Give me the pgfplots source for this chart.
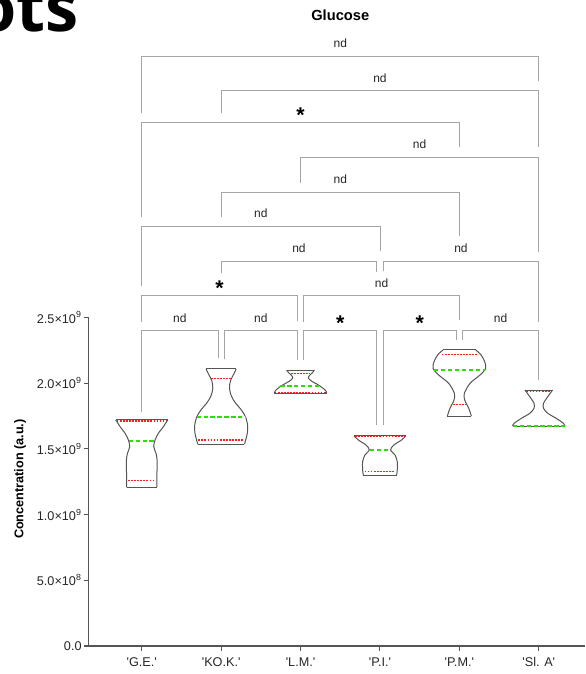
\documentclass[border=0pt]{standalone}
\usepackage{fontspec}
\setmainfont{Liberation Sans}
\newfontfamily\bigfont{Open Sans}
\usepackage{pgfplots}
\pgfplotsset{compat=1.18}
\usepackage{pgfplotstable}

\definecolor{vgreen}{RGB}{40,225,0}
\definecolor{vred}{RGB}{250,30,30}
\definecolor{brk}{RGB}{165,165,165}
\definecolor{axc}{RGB}{85,85,85}

\tikzset{
  vio/.style={draw=axc, line width=0.75pt, smooth, mark=none},
  vioe/.style={draw=axc, line width=0.75pt, sharp plot, mark=none},
  med/.style={draw=vgreen, line width=1.3pt, dash pattern=on 3.2pt off 2pt, mark=none},
  qrt/.style={draw=vred, line width=1pt, dash pattern=on 1.3pt off 1pt, mark=none},
  br/.style={draw=brk, line width=0.55pt, sharp plot, mark=none},
  lab/.style={font=\fontsize{9}{10}\selectfont, text=black!85},
  star/.style={anchor=base, inner sep=0, font=\bfseries\fontsize{16}{16}\selectfont},
}

% violin profiles: y (x1e9) and half width (category units)
\pgfplotstableread{
y w
1.720 0.328
1.700 0.305
1.669 0.273
1.619 0.210
1.568 0.168
1.517 0.151
1.466 0.180
1.416 0.193
1.350 0.193
1.280 0.190
1.208 0.190
}\GE
\pgfplotstableread{
y w
2.108 0.189
2.070 0.160
2.020 0.118
1.960 0.105
1.900 0.130
1.850 0.180
1.800 0.250
1.745 0.306
1.680 0.333
1.620 0.330
1.570 0.310
1.535 0.294
}\KOK
\pgfplotstableread{
y w
2.100 0.175
2.080 0.150
2.060 0.115
2.040 0.098
2.015 0.140
1.990 0.215
1.965 0.275
1.945 0.315
1.923 0.330
}\LM
\pgfplotstableread{
y w
1.600 0.327
1.568 0.273
1.530 0.176
1.492 0.134
1.454 0.189
1.403 0.218
1.339 0.218
1.301 0.210
}\PI
\pgfplotstableread{
y w
2.253 0.206
2.215 0.273
2.164 0.319
2.113 0.332
2.062 0.260
1.999 0.134
1.923 0.063
1.872 0.067
1.809 0.118
1.750 0.151
}\PM
\pgfplotstableread{
y w
1.948 0.174
1.897 0.113
1.847 0.060
1.809 0.060
1.771 0.113
1.733 0.218
1.695 0.310
1.674 0.330
}\SLA

\begin{document}
\begin{tikzpicture}
\begin{axis}[
  x=59.55pt, y=98.55pt,
  xmin=-0.67, xmax=5.583, ymin=0, ymax=2.5,
  axis x line*=bottom, axis y line*=left,
  clip=false,
  xtick={0,1,2,3,4,5},
  xticklabels={\textquotesingle G.E.\textquotesingle,\textquotesingle KO.K.\textquotesingle,\textquotesingle L.M.\textquotesingle,\textquotesingle P.I.\textquotesingle,\textquotesingle P.M.\textquotesingle,\textquotesingle Sl. A\textquotesingle},
  ytick={0,0.5,1,1.5,2,2.5},
  yticklabels={0.0,5.0×10\textsuperscript{8},1.0×10\textsuperscript{9},1.5×10\textsuperscript{9},2.0×10\textsuperscript{9},2.5×10\textsuperscript{9}},
  tick align=outside,
  major tick length=3.5pt,
  axis line style={draw=axc, line width=0.8pt},
  tick style={draw=axc, line width=0.8pt},
  tick label style={font=\fontsize{9.5}{10}\selectfont, text=black!85},
  yticklabel style={inner sep=1.5pt},
  xticklabel style={inner sep=2pt, yshift=-3pt},
]
% ---- quartiles (under outlines) ----
\addplot[qrt] coordinates {(-0.315,1.711) (0.315,1.711)};
\addplot[qrt] coordinates {(-0.172,1.258) (0.172,1.258)};
\addplot[qrt] coordinates {(0.870,2.037) (1.130,2.037)};
\addplot[qrt] coordinates {(0.713,1.568) (1.287,1.568)};
\addplot[qrt] coordinates {(1.880,2.075) (2.120,2.075)};
\addplot[qrt] coordinates {(1.675,1.930) (2.325,1.930)};
\addplot[qrt] coordinates {(2.685,1.592) (3.315,1.592)};
\addplot[qrt] coordinates {(2.807,1.327) (3.193,1.327)};
\addplot[qrt] coordinates {(3.778,2.220) (4.222,2.220)};
\addplot[qrt] coordinates {(3.920,1.840) (4.080,1.840)};
\addplot[qrt] coordinates {(4.845,1.938) (5.155,1.938)};
% ---- violins ----
\addplot[vio] table[x expr=0+\thisrow{w}, y=y]{\GE};
\addplot[vio] table[x expr=0-\thisrow{w}, y=y]{\GE};
\addplot[vioe] coordinates {(-0.328,1.720) (0.328,1.720)};
\addplot[vioe] coordinates {(-0.190,1.208) (0.190,1.208)};
\addplot[vio] table[x expr=1+\thisrow{w}, y=y]{\KOK};
\addplot[vio] table[x expr=1-\thisrow{w}, y=y]{\KOK};
\addplot[vioe] coordinates {(0.811,2.108) (1.189,2.108)};
\addplot[vioe] coordinates {(0.706,1.535) (1.294,1.535)};
\addplot[vio] table[x expr=2+\thisrow{w}, y=y]{\LM};
\addplot[vio] table[x expr=2-\thisrow{w}, y=y]{\LM};
\addplot[vioe] coordinates {(1.825,2.100) (2.175,2.100)};
\addplot[vioe] coordinates {(1.670,1.923) (2.330,1.923)};
\addplot[vio] table[x expr=3+\thisrow{w}, y=y]{\PI};
\addplot[vio] table[x expr=3-\thisrow{w}, y=y]{\PI};
\addplot[vioe] coordinates {(2.673,1.600) (3.327,1.600)};
\addplot[vioe] coordinates {(2.790,1.301) (3.210,1.301)};
\addplot[vio] table[x expr=4+\thisrow{w}, y=y]{\PM};
\addplot[vio] table[x expr=4-\thisrow{w}, y=y]{\PM};
\addplot[vioe] coordinates {(3.794,2.253) (4.206,2.253)};
\addplot[vioe] coordinates {(3.849,1.750) (4.151,1.750)};
\addplot[vio] table[x expr=5+\thisrow{w}, y=y]{\SLA};
\addplot[vio] table[x expr=5-\thisrow{w}, y=y]{\SLA};
\addplot[vioe] coordinates {(4.826,1.948) (5.174,1.948)};
\addplot[vioe] coordinates {(4.670,1.674) (5.330,1.674)};
% ---- medians ----
\addplot[med] coordinates {(-0.165,1.560) (0.165,1.560)};
\addplot[med] coordinates {(0.691,1.740) (1.309,1.740)};
\addplot[med] coordinates {(1.745,1.979) (2.255,1.979)};
\addplot[med] coordinates {(2.870,1.489) (3.130,1.489)};
\addplot[med] coordinates {(3.681,2.100) (4.319,2.100)};
\addplot[med] coordinates {(4.672,1.674) (5.328,1.674)};
% ---- comparison brackets ----
\addplot[br] coordinates {(0,4.056) (0,4.486) (5,4.486) (5,4.300)};
\addplot[br] coordinates {(1,4.056) (1,4.229) (5,4.229) (5,3.798)};
\addplot[br] coordinates {(0,3.267) (0,3.983) (4,3.983) (4,3.798)};
\addplot[br] coordinates {(2,3.526) (2,3.721) (5,3.721) (5,3.001)};
\addplot[br] coordinates {(1,3.267) (1,3.455) (4,3.455) (4,3.123)};
\addplot[br] coordinates {(0,2.740) (0,3.191) (3,3.191) (3,3.008)};
\addplot[br] coordinates {(1,2.839) (1,2.925) (2.96,2.925) (2.96,2.849)};
\addplot[br] coordinates {(3.04,2.854) (3.04,2.925) (5,2.925) (5,2.468)};
\addplot[br] coordinates {(0,2.468) (0,2.666) (1.96,2.666) (1.96,2.476)};
\addplot[br] coordinates {(2.04,2.468) (2.04,2.666) (4,2.666) (4,2.481)};
\addplot[br] coordinates {(0,1.783) (0,2.400) (0.96,2.400) (0.96,2.189)};
\addplot[br] coordinates {(1.04,2.182) (1.04,2.400) (1.96,2.400) (1.96,2.177)};
\addplot[br] coordinates {(2.04,2.177) (2.04,2.400) (2.96,2.400) (2.96,1.682)};
\addplot[br] coordinates {(3.04,1.682) (3.04,2.400) (3.96,2.400) (3.96,2.329)};
\addplot[br] coordinates {(4.04,2.329) (4.04,2.400) (5,2.400) (5,2.024)};
% ---- labels ----
\node[lab] at (axis cs:2.5,4.589) {nd};
\node[lab] at (axis cs:3,4.323) {nd};
\node[lab] at (axis cs:3.5,3.820) {nd};
\node[lab] at (axis cs:2.5,3.554) {nd};
\node[lab] at (axis cs:1.5,3.290) {nd};
\node[lab] at (axis cs:1.98,3.027) {nd};
\node[lab] at (axis cs:4.02,3.027) {nd};
\node[lab] at (axis cs:3.02,2.763) {nd};
\node[lab] at (axis cs:0.48,2.496) {nd};
\node[lab] at (axis cs:1.5,2.496) {nd};
\node[lab] at (axis cs:4.52,2.496) {nd};
\node[star] at (axis cs:2,3.985) {*};
\node[star] at (axis cs:0.98,2.668) {*};
\node[star] at (axis cs:2.5,2.399) {*};
\node[star] at (axis cs:3.5,2.399) {*};
% title, y label, cropped heading
\node[font=\bfseries\fontsize{11}{12}\selectfont] at (axis cs:2.5,4.80) {Glucose};
\node[rotate=90, font=\bfseries\fontsize{9.5}{10}\selectfont] at (axis cs:-1.533,1.27) {Concentration (a.u.)};
\node[anchor=base east, inner sep=0, font=\bigfont\bfseries\fontsize{50}{50}\selectfont] at (axis cs:-0.79,4.68) {ots};
\coordinate (bbsw) at (axis cs:-1.785,-0.213);
\coordinate (bbne) at (axis cs:5.583,4.916);
\end{axis}
\pgfresetboundingbox
\useasboundingbox (bbsw) rectangle (bbne);
\end{tikzpicture}
\end{document}
